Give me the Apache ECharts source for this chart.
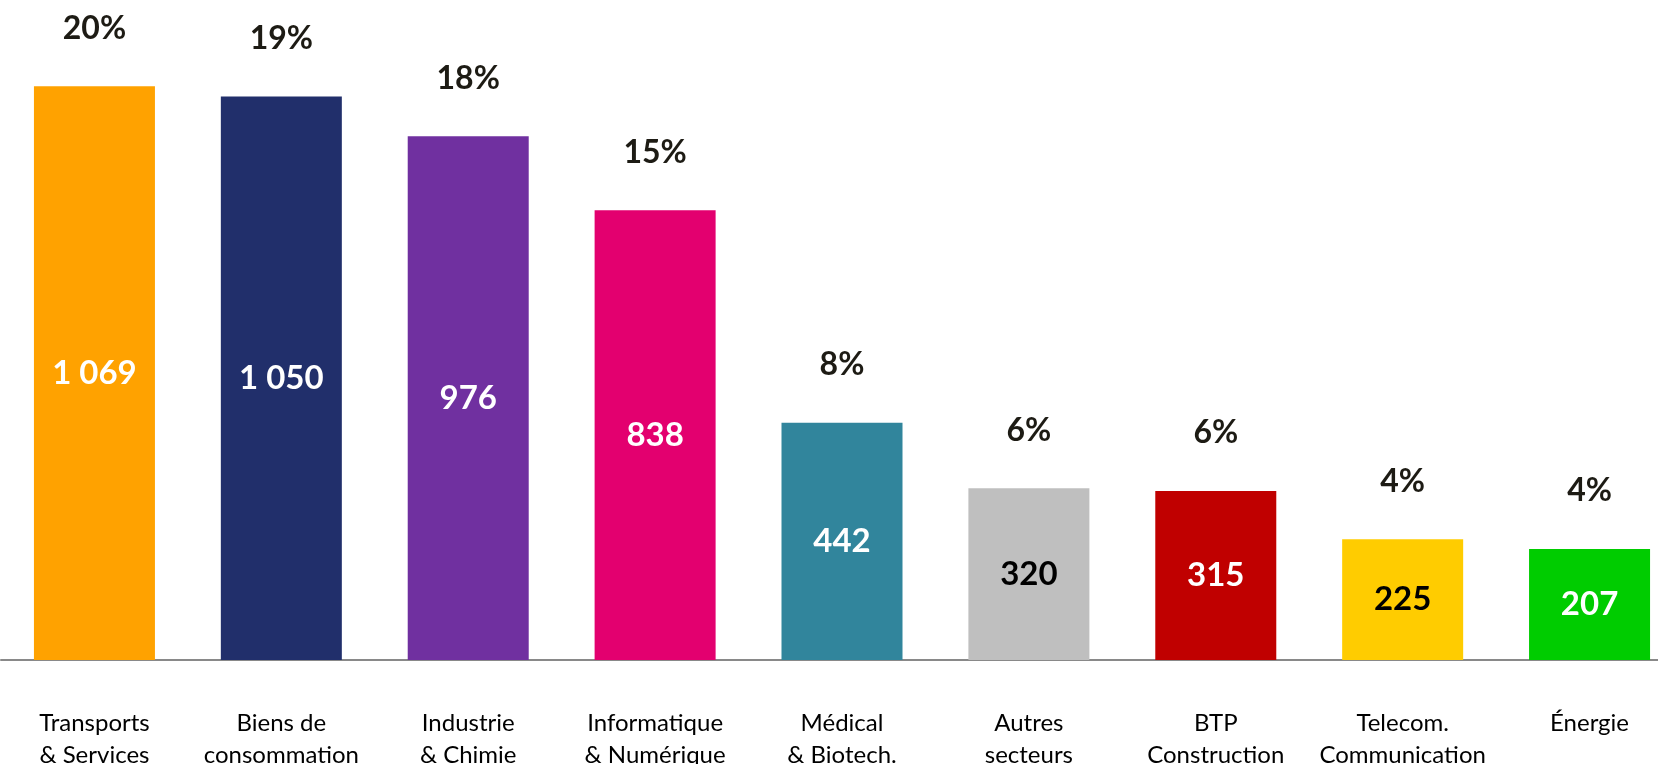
<!DOCTYPE html>
<html lang="fr">
<head>
    <meta charset="utf-8">
    <title>Secteurs</title>
    <style>
        html, body {
            margin: 0;
            padding: 0;
            background: #fff;
        }

        #chart {
            width: 1658px;
            height: 764px;
        }
    </style>
</head>
<body>
<div id="chart"></div>

<script src="https://cdn.jsdelivr.net/npm/echarts@6/dist/echarts.min.js"></script>
<script>
    // données du graphique
    let sectors = [
        'Transports\n& Services',
        'Biens de\nconsommation',
        'Industrie\n& Chimie',
        'Informatique\n& Numérique',
        'Médical\n& Biotech.',
        'Autres\nsecteurs',
        'BTP\nConstruction',
        'Telecom.\nCommunication',
        'Énergie'
    ];
    let counts = [1069, 1050, 976, 838, 442, 320, 315, 225, 207];
    let percents = [20, 19, 18, 15, 8, 6, 6, 4, 4];
    let barColors = ['#FFA200', '#212F6B', '#7030A0', '#E3006F', '#31859C', '#BFBFBF', '#C00000', '#FFCC00', '#00CC00'];
    let labelColors = ['#fff', '#fff', '#fff', '#fff', '#fff', '#000', '#fff', '#000', '#fff'];

    let font = 'Lato, "Open Sans", sans-serif';

    function withSpace(n) {
        return String(n).replace(/\B(?=(\d{3})+(?!\d))/g, ' ');
    }

    let chart = echarts.init(document.getElementById('chart'));

    let mainData = [];
    for (let i = 0; i < counts.length; i++) {
        mainData.push({
            value: counts[i],
            itemStyle: {color: barColors[i]},
            label: {color: labelColors[i]}
        });
    }

    let option = {
        animation: false,
        grid: {
            left: 1,
            width: 1682,
            top: 16,
            bottom: 104,
            containLabel: false,
            outerBoundsMode: 'none'
        },
        xAxis: {
            type: 'category',
            data: sectors,
            axisLine: {
                lineStyle: {color: '#898989', width: 2}
            },
            axisTick: {show: false},
            axisLabel: {
                interval: 0,
                margin: 47,
                color: '#000',
                fontFamily: font,
                fontSize: 24,
                lineHeight: 32
            }
        },
        yAxis: {
            type: 'value',
            min: 0,
            max: 1200,
            show: false,
            splitLine: {show: false}
        },
        series: [
            {
                type: 'bar',
                barWidth: 121,
                barGap: '-100%',
                data: mainData,
                label: {
                    show: true,
                    position: 'inside',
                    fontFamily: font,
                    fontWeight: 'bold',
                    fontSize: 33,
                    formatter: function (p) {
                        return withSpace(p.value);
                    }
                }
            },
            {
                // barre transparente pour les pourcentages
                type: 'bar',
                barWidth: 121,
                barGap: '-100%',
                silent: true,
                data: counts,
                itemStyle: {color: 'rgba(0,0,0,0)'},
                label: {
                    show: true,
                    position: 'top',
                    distance: 42,
                    color: '#1D1B14',
                    fontFamily: font,
                    fontWeight: 'bold',
                    fontSize: 32,
                    formatter: function (p) {
                        return percents[p.dataIndex] + '%';
                    }
                }
            }
        ]
    };

    chart.setOption(option);
</script>
</body>
</html>
